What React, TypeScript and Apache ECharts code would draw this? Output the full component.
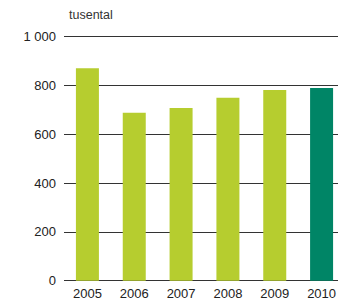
import React, { useEffect, useRef } from "react";
import * as echarts from "echarts";

const categories = ["2005", "2006", "2007", "2008", "2009", "2010"];
const values = [871, 688, 708, 750, 782, 790];
const colors = ["#b6cd2f", "#b6cd2f", "#b6cd2f", "#b6cd2f", "#b6cd2f", "#008566"];
const yTicks = [0, 200, 400, 600, 800, 1000];

export default function App() {
  const ref = useRef<HTMLDivElement>(null);
  useEffect(() => {
    const chart = echarts.init(ref.current!, undefined, { renderer: "svg" });
    chart.setOption({
      animation: false,
      textStyle: { fontFamily: "Liberation Sans, Arial, sans-serif" },
      graphic: [
        {
          type: "text",
          left: 69,
          top: 8,
          style: { text: "tusental", fontSize: 12.5, fill: "#333", fontFamily: "Liberation Sans, Arial, sans-serif" },
        },
      ],
      grid: { left: 64, right: -7, top: 36.7, bottom: 19.3, containLabel: false, outerBoundsMode: "none" },
      xAxis: {
        type: "category",
        data: categories,
        axisTick: { show: false },
        axisLine: { show: false },
        axisLabel: { color: "#222", fontSize: 13, lineHeight: 13, margin: 6 },
      },
      yAxis: {
        type: "value",
        min: 0,
        max: 1000,
        interval: 200,
        axisLine: { show: false },
        axisTick: { show: false },
        splitLine: { lineStyle: { color: "#333", width: 1 } },
        axisLabel: {
          color: "#222",
          fontSize: 13,
          margin: 8,
          formatter: (v: number) => (yTicks.includes(v) ? (v >= 1000 ? "1 000" : String(v)) : ""),
        },
      },
      series: [
        {
          type: "bar",
          barWidth: 23,
          z: 1,
          data: values.map((v, i) => ({ value: v, itemStyle: { color: colors[i] } })),
        },
      ],
    });
    return () => chart.dispose();
  }, []);
  return <div ref={ref} style={{ width: 338, height: 300, position: "absolute", left: 0, top: 0 }} />;
}
